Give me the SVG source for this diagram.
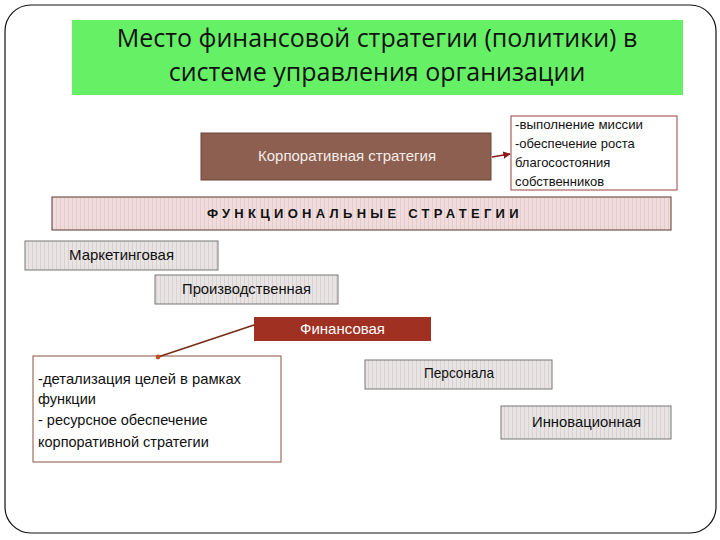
<svg xmlns="http://www.w3.org/2000/svg" width="720" height="540" viewBox="0 0 720 540">
<style>
.t{font-family:"Liberation Sans",Arial,sans-serif;font-size:14.5px;fill:#111}
.title{font-family:"Open Sans","Noto Sans",sans-serif;font-size:25px;fill:#111;text-anchor:middle}
.gray{fill:url(#stripeGray);stroke:#777;stroke-width:1}
.c{text-anchor:middle}
</style>
<defs>
<pattern id="stripeGray" width="4" height="10" patternUnits="userSpaceOnUse">
<rect width="4" height="10" fill="#e8e4e4"/>
<rect width="1" height="10" fill="#d8d2d2"/>
</pattern>
<pattern id="stripePink" width="4" height="10" patternUnits="userSpaceOnUse">
<rect width="4" height="10" fill="#f0dcdc"/>
<rect width="1" height="10" fill="#e4cccc"/>
</pattern>
<marker id="arr" viewBox="0 0 10 10" refX="9" refY="5" markerWidth="5" markerHeight="5" orient="auto">
<path d="M0,0 L10,5 L0,10 z" fill="#8b1a1a"/>
</marker>
<marker id="dot" viewBox="0 0 10 10" refX="5" refY="5" markerWidth="4" markerHeight="4">
<circle cx="5" cy="5" r="4" fill="#c05020"/>
</marker>
</defs>
<rect x="5" y="5" width="711" height="528" rx="26" fill="#fff" stroke="#111" stroke-width="1.2"/>
<g id="title">
<rect x="72" y="20" width="611" height="75" fill="#66f066"/>
<text class="title" x="377" y="47">Место финансовой стратегии (политики) в</text>
<text class="title" x="377" y="81">системе управления организации</text>
</g>
<g id="corporate">
<rect x="201" y="133" width="290" height="47" fill="#8c5f50" stroke="#6a4438" stroke-width="1"/>
<text class="t" x="258" y="161" textLength="178" lengthAdjust="spacingAndGlyphs" style="fill:#f4ece8">Корпоративная стратегия</text>
</g>
<g id="mission">
<rect x="511" y="116" width="166" height="74" fill="#fff" stroke="#9a4040" stroke-width="1"/>
<text class="t" x="515" y="129" style="font-size:13px" textLength="128" lengthAdjust="spacingAndGlyphs">-выполнение миссии</text>
<text class="t" x="515" y="148" style="font-size:13px">-обеспечение роста</text>
<text class="t" x="515" y="167" style="font-size:13px">благосостояния</text>
<text class="t" x="515" y="186" style="font-size:13px">собственников</text>
</g>
<g id="functional">
<rect x="52" y="197" width="619" height="33" fill="url(#stripePink)" stroke="#5a3a30" stroke-width="1"/>
<text class="t" x="207" y="218" style="font-size:13px;font-weight:bold;letter-spacing:4.3px">ФУНКЦИОНАЛЬНЫЕ СТРАТЕГИИ</text>
</g>
<g id="marketing">
<rect class="gray" x="25" y="241" width="193" height="29"/>
<text class="t" x="69" y="260" textLength="105" lengthAdjust="spacingAndGlyphs">Маркетинговая</text>
</g>
<g id="production">
<rect class="gray" x="155" y="275" width="183" height="29"/>
<text class="t" x="182" y="294" textLength="129" lengthAdjust="spacingAndGlyphs">Производственная</text>
</g>
<g id="finance">
<rect x="254" y="317" width="177" height="24" fill="#a03022"/>
<text class="t" x="300" y="334" textLength="85" lengthAdjust="spacingAndGlyphs" style="fill:#fff">Финансовая</text>
</g>
<g id="detail">
<rect x="33" y="356" width="248" height="106" fill="#fff" stroke="#8a5040" stroke-width="1"/>
<text class="t" x="38" y="384" textLength="203" lengthAdjust="spacingAndGlyphs">-детализация целей в рамках</text>
<text class="t" x="38" y="404">функции</text>
<text class="t" x="38" y="425">- ресурсное обеспечение</text>
<text class="t" x="38" y="447">корпоративной стратегии</text>
</g>
<g id="personnel">
<rect class="gray" x="365" y="360" width="187" height="29"/>
<text class="t" x="424" y="378" textLength="70" lengthAdjust="spacingAndGlyphs">Персонала</text>
</g>
<g id="innovation">
<rect class="gray" x="501" y="406" width="170" height="33"/>
<text class="t" x="532" y="427" textLength="109" lengthAdjust="spacingAndGlyphs">Инновационная</text>
</g>
<g id="connectors">
<line x1="492" y1="157" x2="510" y2="154" stroke="#8b1a1a" stroke-width="1.5" marker-end="url(#arr)"/>
<line x1="254" y1="325" x2="158" y2="357" stroke="#7a2a10" stroke-width="1.5" marker-end="url(#dot)"/>
</g>
</svg>
